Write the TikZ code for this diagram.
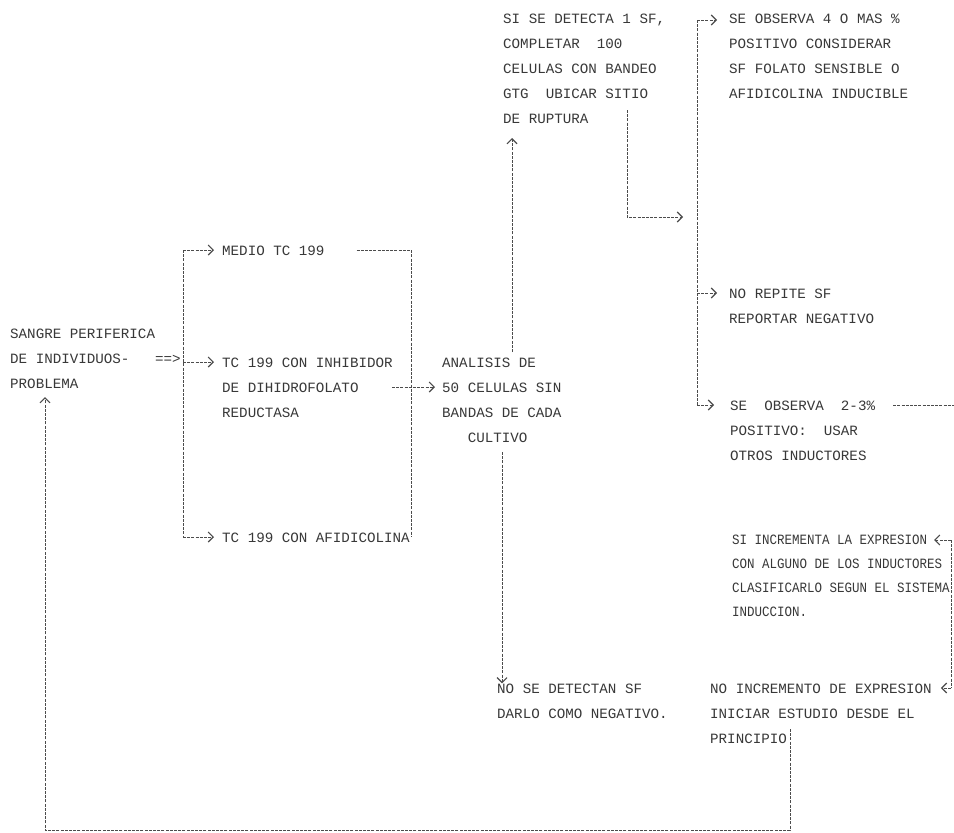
\documentclass[tikz,border=0pt]{standalone}
\usepackage{fontspec}
\setmainfont{Liberation Mono}
\newfontfamily\elitefont[FakeStretch=0.88]{Liberation Mono}
\usetikzlibrary{arrows.meta}
\definecolor{ink}{gray}{0.22}
\definecolor{lnk}{gray}{0.3}
\newcommand{\pica}{\fontsize{14.2}{25}\selectfont}
\newcommand{\elite}{\elitefont\fontsize{14.2}{24}\selectfont}
\begin{document}
\begin{tikzpicture}[x=1pt,y=-1pt]
\tikzset{
  txt/.style={font=\pica, align=left, anchor=base west, inner sep=0pt, text=ink},
  etxt/.style={txt, font=\elite},
  ln/.style={draw=lnk, line width=0.8pt, dash pattern=on 3pt off 1.2pt},
  tip/.style={ln, -{Straight Barb[length=5pt,width=10pt,line width=1.1pt]}},
}
\fill[white] (0,0) rectangle (954,833);
\useasboundingbox (0,0) rectangle (954,833);

% text blocks (anchor = baseline of the last line)
\node[txt] (src) at (10,388) {SANGRE PERIFERICA\\DE INDIVIDUOS-\\PROBLEMA};
\node[txt] (dbl) at (155,363) {==>};
\node[txt] (medio) at (222,255) {MEDIO TC 199};
\node[txt] (inhib) at (222,417) {TC 199 CON INHIBIDOR\\DE DIHIDROFOLATO\\REDUCTASA};
\node[txt] (afid) at (222,542) {TC 199 CON AFIDICOLINA};
\node[txt] (anal) at (442,442) {ANALISIS DE\\50 CELULAS SIN\\BANDAS DE CADA\\\hphantom{AAA}CULTIVO};
\node[txt] (si) at (503,123) {SI SE DETECTA 1 SF,\\COMPLETAR\ \ 100\\CELULAS CON BANDEO\\GTG\ \ UBICAR SITIO\\DE RUPTURA};
\node[txt] (obsa) at (729,98) {SE OBSERVA 4 O MAS \%\\POSITIVO CONSIDERAR\\SF FOLATO SENSIBLE O\\AFIDICOLINA INDUCIBLE};
\node[txt] (norep) at (729,323) {NO REPITE SF\\REPORTAR NEGATIVO};
\node[txt] (obsb) at (730,460) {SE\ \ OBSERVA\ \ 2-3\%\\POSITIVO:\ \ USAR\\OTROS INDUCTORES};
\node[etxt] (siinc) at (732,616) {SI INCREMENTA LA EXPRESION\\CON ALGUNO DE LOS INDUCTORES\\CLASIFICARLO SEGUN EL SISTEMA\\INDUCCION.};
\node[txt] (nodet) at (497,718) {NO SE DETECTAN SF\\DARLO COMO NEGATIVO.};
\node[txt] (noinc) at (710,743) {NO INCREMENTO DE EXPRESION\\INICIAR ESTUDIO DESDE EL\\PRINCIPIO};

% left trunk
\coordinate (tl) at (183,250);
\coordinate (tm) at (183,362);
\coordinate (tb) at (183,537);
\draw[ln] (tl) -- (tb);
\draw[tip, shorten >=8pt] (tl) -- (tl -| medio.west);
\draw[tip, shorten >=8pt] (tm) -- (tm -| inhib.west);
\draw[tip, shorten >=8pt] (tb) -- (tb -| afid.west);

% merge to analysis
\coordinate (rt) at (411,250);
\coordinate (rb) at (411,537);
\draw[ln] ([xshift=32pt]medio.east |- rt) -- (rt) -- (rb);
\coordinate (ax) at (392,387);
\draw[tip, shorten >=7pt] (ax) -- (ax -| anal.west);

% analysis outputs
\coordinate (d1) at (502,452);
\draw[tip] (d1) -- (d1 |- nodet.north);
\coordinate (u1) at (512,352);
\coordinate (u2) at (512,138);
\draw[tip] (u1) -- (u2);

% from SI block to right trunk
\coordinate (s1) at (627,110);
\coordinate (s3) at (697,217);
\draw[tip, shorten >=14pt] (s1) |- (s3);

% right trunk
\coordinate (r0) at (697,20);
\coordinate (r1) at (697,293);
\coordinate (r2) at (697,405);
\draw[ln] (r0) -- (r2);
\draw[tip, shorten >=12pt] (r0) -- (r0 -| obsa.west);
\draw[tip, shorten >=12pt] (r1) -- (r1 -| norep.west);
\draw[tip, shorten >=16pt] (r2) -- (r2 -| obsb.west);

% out to page edge
\coordinate (e1) at (954,405);
\draw[ln] ([xshift=18pt]obsb.east |- r2) -- (e1);

% right vertical
\coordinate (q1) at (951,540);
\coordinate (q2) at (951,688);
\coordinate (q1t) at (934,540);
\draw[ln] (q1) -- (q2);
\draw[tip] (q1) -- (q1t);
\draw[tip, shorten >=9pt] (q2) -- (q2 -| noinc.east);

% return loop
\coordinate (b1) at (790,729);
\coordinate (b2) at (790,830);
\coordinate (b3) at (45,830);
\coordinate (b4) at (45,397);
\draw[tip] (b1) -- (b2) -- (b3) -- (b4);
\end{tikzpicture}
\end{document}
